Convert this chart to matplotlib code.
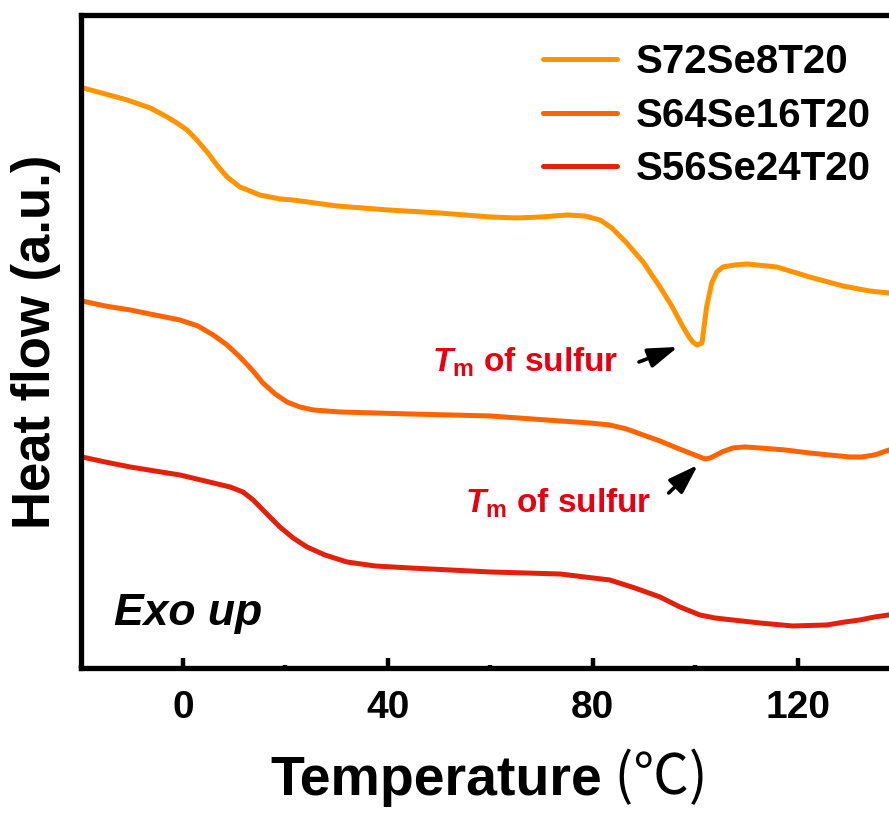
import matplotlib
matplotlib.use("Agg")
import matplotlib.pyplot as plt
from matplotlib.ticker import MultipleLocator

plt.rcParams['font.family'] = ['Liberation Sans', 'Noto Sans CJK SC', 'DejaVu Sans']
plt.rcParams['font.weight'] = 'bold'
plt.rcParams['axes.labelweight'] = 'bold'
plt.rcParams['mathtext.fontset'] = 'custom'
plt.rcParams['mathtext.it'] = 'Liberation Sans:italic:bold'
plt.rcParams['mathtext.bf'] = 'Liberation Sans:bold'
plt.rcParams['mathtext.rm'] = 'Liberation Sans:bold'

# DSC traces (temperature in C, heat flow in a.u. with offsets)
t1 = [-19.5, -15.2, -10.9, -6.4, -3.1, -1.2, 0.8, 2.7, 4.7, 6.6, 8.6, 11.1, 15.0,
      18.9, 21.5, 30, 40, 50, 60, 65, 70, 75, 78.4, 81.4, 83.7, 86.6, 89.8, 93.1,
      95.4, 97.6, 98.9, 99.5, 100.3, 101.3, 102.2, 103.2, 104.2, 105.4, 107.7,
      110.0, 115.9, 122.3, 128.8, 134.0, 137.8]
hf1 = [5.80, 5.74, 5.68, 5.60, 5.51, 5.45, 5.38, 5.28, 5.16, 5.03, 4.91, 4.81, 4.73,
       4.69, 4.68, 4.62, 4.58, 4.55, 4.51, 4.50, 4.51, 4.53, 4.52, 4.48, 4.40, 4.25,
       4.06, 3.81, 3.62, 3.41, 3.30, 3.26, 3.23, 3.25, 3.61, 3.85, 3.96, 4.01, 4.03,
       4.04, 4.01, 3.91, 3.82, 3.77, 3.75]

t2 = [-19.7, -15.2, -10.3, -5.5, -0.6, 2.9, 5.9, 8.6, 11.1, 13.5, 15.6, 18.0, 20.3,
      22.8, 25.4, 30.6, 44.3, 60, 73.6, 79.4, 83.3, 86.6, 89.8, 93.1, 96.4, 98.9,
      100.9, 101.9, 102.9, 104.1, 105.2, 107.3, 109.7, 112.6, 117.5, 122.3, 126.2,
      130.1, 132.5, 135.0, 137.8]
hf2 = [3.67, 3.62, 3.58, 3.53, 3.48, 3.42, 3.33, 3.23, 3.11, 2.98, 2.85, 2.74, 2.66,
       2.61, 2.58, 2.56, 2.54, 2.52, 2.47, 2.45, 2.43, 2.39, 2.33, 2.27, 2.20, 2.15,
       2.11, 2.09, 2.10, 2.13, 2.16, 2.20, 2.21, 2.20, 2.18, 2.15, 2.13, 2.11, 2.11,
       2.13, 2.18]

t3 = [-19.7, -15.2, -10.3, -5.5, -0.6, 4.3, 9.2, 11.7, 13.7, 16.0, 18.9, 21.5, 24.2,
      27.7, 32.0, 37.5, 44.3, 60, 73.6, 78.4, 83.3, 88.2, 93.1, 97.0, 100.9, 103.8,
      107.3, 112.6, 119.0, 125.7, 129.2, 132.1, 135.0, 137.8]
hf3 = [2.11, 2.06, 2.01, 1.97, 1.93, 1.87, 1.81, 1.76, 1.68, 1.56, 1.41, 1.30, 1.21,
       1.13, 1.06, 1.02, 1.00, 0.96, 0.94, 0.91, 0.88, 0.80, 0.71, 0.61, 0.53, 0.50,
       0.48, 0.45, 0.42, 0.43, 0.46, 0.48, 0.51, 0.53]

labels = ['S72Se8T20', 'S64Se16T20', 'S56Se24T20']
colors = ['#FF9400', '#FF6400', '#E3200B']

# annotation anchors (arrow tail, arrow head, label start)
tm_tail = [(89.0, 3.06), (94.8, 1.75)]
tm_head = [(96.6, 3.21), (100.5, 2.03)]
tm_text = [(48.6, 2.96), (55.0, 1.55)]

fig = plt.figure(figsize=(8.89, 8.17), dpi=100)
ax = fig.add_axes([0.0906, 0.1824, 0.9094, 0.7993])

for t, hf, lab, c in zip([t1, t2, t3], [hf1, hf2, hf3], labels, colors):
    ax.plot(t, hf, color=c, lw=3.6, label=lab, solid_joinstyle='round',
            solid_capstyle='round')

ax.set_xlim(-20, 137.8)
ax.set_ylim(0, 6.53)
ax.xaxis.set_major_locator(MultipleLocator(40))
ax.xaxis.set_minor_locator(MultipleLocator(20))
ax.set_yticks([])
ax.tick_params(axis='x', which='major', direction='in', length=7, width=3.2,
               labelsize=28, pad=16)
ax.tick_params(axis='x', which='minor', direction='in', length=2.5, width=3.2)
for sp in ['left', 'top', 'bottom']:
    ax.spines[sp].set_linewidth(3.8)
ax.spines['right'].set_visible(False)

# x label: bold word, unit in a plain CJK face as in the original
xl = fig.text(0.3037, 0.012, 'Temperature', fontsize=40, fontweight='bold',
              ha='left', va='bottom')
ax.annotate(' (℃)', xy=(1, 0), xycoords=xl, ha='left', va='bottom',
            fontsize=40, fontweight='normal', family=['Noto Sans CJK SC'])
ax.set_ylabel('Heat flow (a.u.)', fontsize=38, fontweight='bold', labelpad=14)

leg = ax.legend(loc='upper right', bbox_to_anchor=(1.022, 1.012), frameon=False,
                fontsize=29, handlelength=1.85, handletextpad=0.45, labelspacing=0.38)

red = '#E60012'
for tail, head, pos in zip(tm_tail, tm_head, tm_text):
    ax.annotate('', xy=head, xytext=tail,
                arrowprops=dict(arrowstyle='-|>,head_length=0.9,head_width=0.3',
                                color='black', lw=2.6, mutation_scale=20,
                                shrinkA=0, shrinkB=0))
    ax.text(pos[0], pos[1], '$\\mathit{T}_\\mathbf{m}$ of sulfur', fontsize=24,
            color=red, va='baseline')

ax.text(-13.5, 0.43, 'Exo up', fontsize=32, style='italic', fontweight='bold')

fig.savefig('out.png', dpi=100)
